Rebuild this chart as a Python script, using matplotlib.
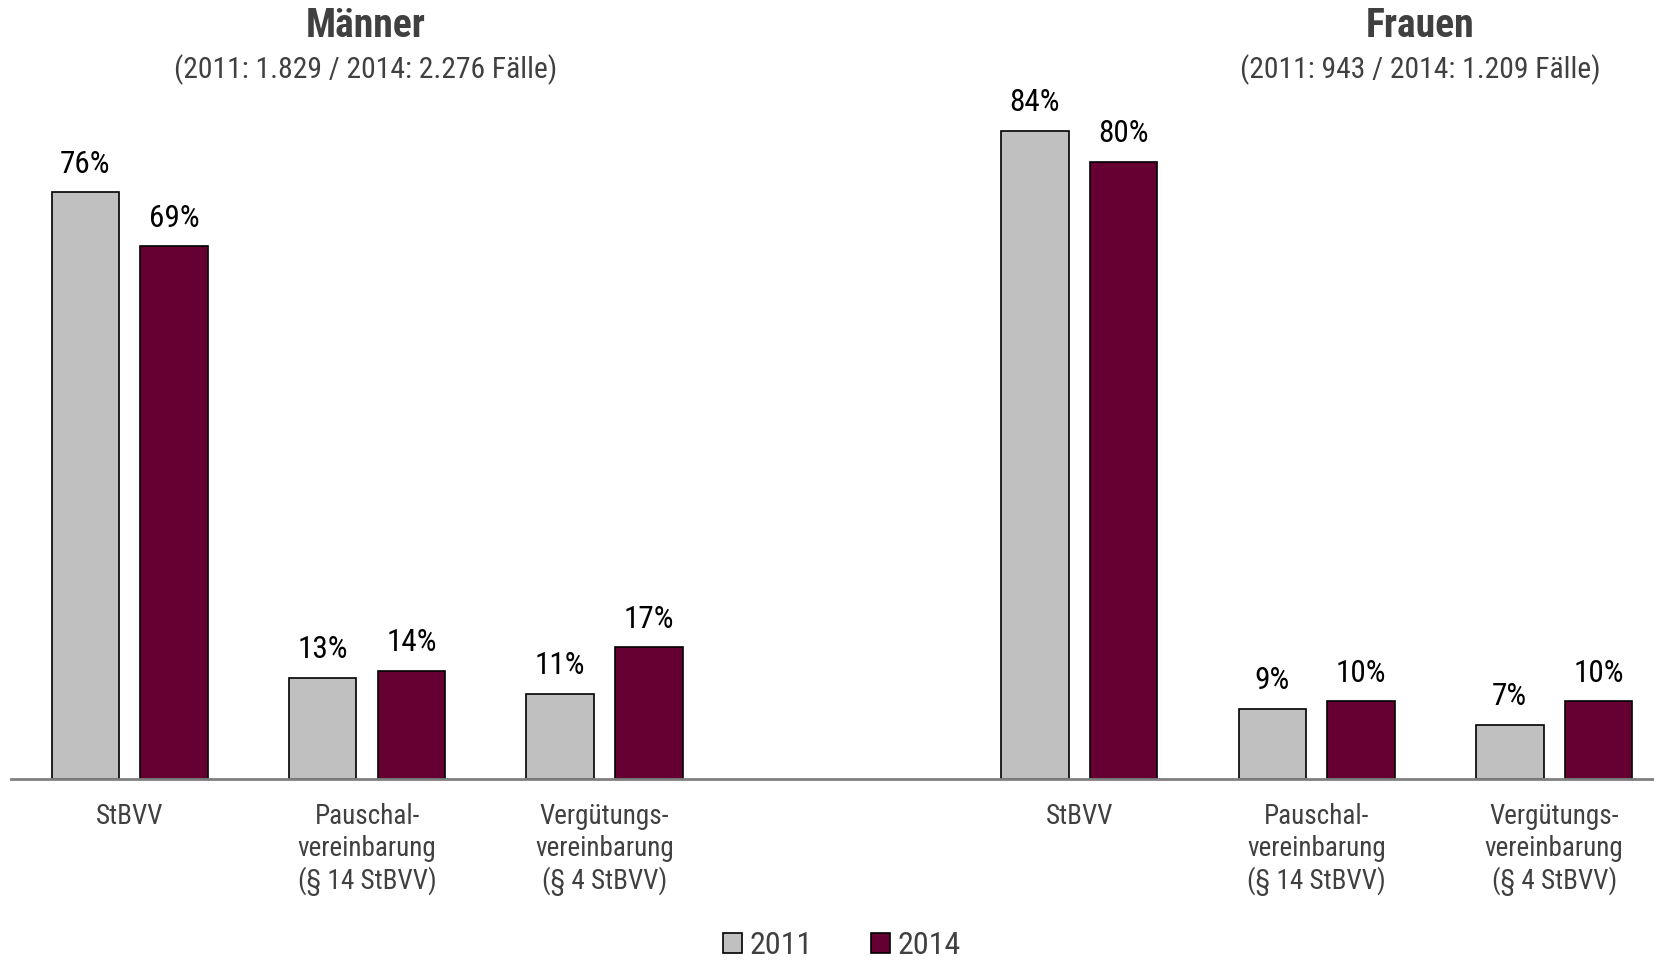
import matplotlib
matplotlib.use("Agg")
import matplotlib.pyplot as plt
import numpy as np

categories = ["StBVV", "Pauschal-\nvereinbarung\n(§ 14 StBVV)", "Vergütungs-\nvereinbarung\n(§ 4 StBVV)"]
maenner_2011 = [76, 13, 11]
maenner_2014 = [69, 14, 17]
frauen_2011 = [84, 9, 7]
frauen_2014 = [80, 10, 10]
series_labels = ["2011", "2014"]
titles = ["Männer", "Frauen"]
subtitles = ["(2011: 1.829 / 2014: 2.276 Fälle)", "(2011: 943 / 2014: 1.209 Fälle)"]

fam = ["Liberation Sans Narrow", "Roboto Condensed", "Archivo Narrow", "DejaVu Sans"]
plt.rcParams['font.family'] = fam

W, H = 1654, 964
fig = plt.figure(figsize=(W/100, H/100), dpi=100)
ax = fig.add_axes([11/W, 185.5/H, 1 - 11/W, 694/H])

pos_m = np.arange(3)
pos_f = np.arange(3) + 4
bw = 0.284
off = 0.187
c11 = "#C0C0C0"
c14 = "#660033"

b1 = ax.bar(np.concatenate([pos_m, pos_f]) - off, maenner_2011 + frauen_2011, width=bw,
            color=c11, edgecolor="black", linewidth=1.2, label=series_labels[0])
b2 = ax.bar(np.concatenate([pos_m, pos_f]) + off, maenner_2014 + frauen_2014, width=bw,
            color=c14, edgecolor="black", linewidth=1.2, label=series_labels[1])
for bars in (b1, b2):
    for r in bars:
        ax.annotate(f"{int(r.get_height())}%", (r.get_x() + r.get_width()/2, r.get_height()),
                    xytext=(0, 10), textcoords="offset points", ha="center", va="bottom",
                    fontsize=22.5, color="black")

ax.set_xlim(-0.5, (W - 129.8) / 237.4)
ax.set_ylim(0, 90)
ax.set_xticks(np.concatenate([pos_m, pos_f]))
ax.set_xticklabels(categories + categories, fontsize=19.5, color="#404040", linespacing=1.22, va="top")
ax.tick_params(axis="x", length=0, pad=18)
ax.set_yticks([])
for s in ("top", "right", "left"):
    ax.spines[s].set_visible(False)
ax.spines["bottom"].set_color("#808080")
ax.spines["bottom"].set_linewidth(2)

fig.text(366/W, 1 - 26/H, titles[0], ha="center", va="center", fontsize=28.5, fontweight="bold", color="#404040")
fig.text(366/W, 1 - 70/H, subtitles[0], ha="center", va="center", fontsize=21.3, color="#404040")
fig.text(1420/W, 1 - 26/H, titles[1], ha="center", va="center", fontsize=28.5, fontweight="bold", color="#404040")
fig.text(1420/W, 1 - 70/H, subtitles[1], ha="center", va="center", fontsize=21.3, color="#404040")

leg = fig.legend(handles=[b1, b2], labels=series_labels, loc="center", bbox_to_anchor=(0.509, 1 - 946/H),
                 ncol=2, frameon=False, fontsize=23, handlelength=0.6, handleheight=0.6,
                 handletextpad=0.25, columnspacing=1.8, labelcolor="#404040",
                 borderpad=0.1)

fig.savefig("out.png", dpi=100)
